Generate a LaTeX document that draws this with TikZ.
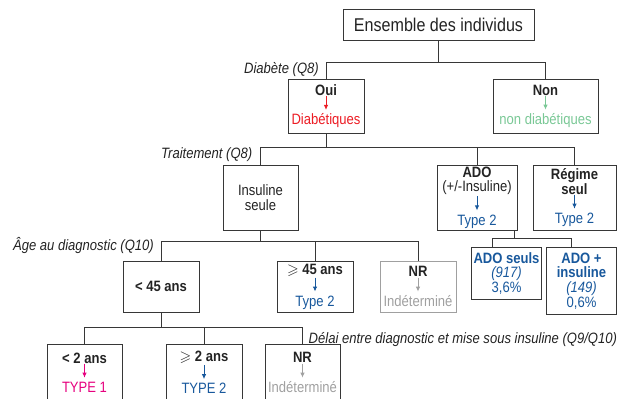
\documentclass[tikz,border=0pt]{standalone}
\usepackage{fontspec}
\setmainfont{Liberation Sans}[FakeStretch=0.87]
\usepackage{amssymb}
\usepackage{tikz}
\usetikzlibrary{arrows.meta, positioning}
\definecolor{txtgray}{RGB}{35,35,35}
\definecolor{linegray}{RGB}{55,55,55}
\definecolor{diabred}{RGB}{236,28,36}
\definecolor{nondgreen}{RGB}{122,200,150}
\definecolor{typeblue}{RGB}{24,88,156}
\definecolor{typepink}{RGB}{230,0,126}
\definecolor{indgray}{RGB}{160,160,160}
\newcommand{\smallarr}[1]{\tikz[baseline=0pt]\draw[#1, line width=0.9pt, -{Latex[length=5pt,width=4.5pt]}] (0,14pt) -- (0,0pt);}

\begin{document}
\begin{tikzpicture}[x=1pt, y=-1pt,
      box/.style={draw=linegray, line width=1pt, inner sep=0pt, align=center,
          text=txtgray, font=\fontsize{15}{14.6}\selectfont},
      link/.style={linegray, line width=1pt},
      qlab/.style={font=\fontsize{15}{14.6}\selectfont\itshape, text=txtgray, inner sep=0pt}
    ]
    \useasboundingbox (0,0) rectangle (622,399);
    \clip (0,0) rectangle (622,399);

    \node[box, minimum width=191pt, minimum height=31pt, font=\fontsize{18.5}{20}\selectfont] (root) at (438.5,24.5) {Ensemble des individus};
    \node[box, minimum width=76pt, minimum height=54pt] (oui) at (326,106) {\textbf{Oui}\\\smallarr{diabred}\\\textcolor{diabred}{Diabétiques}};
    \node[box, minimum width=105pt, minimum height=54pt, right=128pt of oui] (non) {\textbf{Non}\\\smallarr{nondgreen}\\\textcolor{nondgreen}{non diabétiques}};

    \node[box, minimum width=75pt, minimum height=65pt] (ins) at (260.5,197.5) {Insuline\\seule};
    \node[box, minimum width=80pt, minimum height=65pt, right=138pt of ins] (ado) {\textbf{ADO}\\(+/-Insuline)\\\smallarr{typeblue}\\\textcolor{typeblue}{Type 2}};
    \node[box, minimum width=83pt, minimum height=65pt, right=15pt of ado] (reg) {\textbf{Régime}\\\textbf{seul}\\\smallarr{typeblue}\\\textcolor{typeblue}{Type 2}};

    \node[box, minimum width=76pt, minimum height=51pt] (lt45) at (161,286.5) {\textbf{< 45 ans}};
    \node[box, minimum width=76pt, minimum height=51pt, right=77pt of lt45] (ge45) {$\geqslant$ \textbf{45 ans}\\\smallarr{typeblue}\\\textcolor{typeblue}{Type 2}};
    \node[box, draw=indgray, minimum width=76pt, minimum height=51pt, right=26pt of ge45] (nr45) {\textbf{NR}\\\smallarr{indgray}\\\textcolor{indgray}{Indéterminé}};

    \node[box, minimum width=70pt, minimum height=52pt, anchor=north west, text=typeblue] (seuls) at (471,247) {\textbf{ADO seuls}\\\textit{(917)}\\3,6\%};
    \node[box, minimum width=70pt, minimum height=67pt, right=4pt of seuls.north east, anchor=north west, text=typeblue] (plus) {\textbf{ADO +}\\\textbf{insuline}\\\textit{(149)}\\0,6\%};

    \node[box, minimum width=75pt, minimum height=56pt, anchor=north] (lt2) at (84.5,344) {\textbf{< 2 ans}\\\smallarr{typepink}\\\textcolor{typepink}{TYPE 1}};
    \node[box, minimum width=76pt, minimum height=56pt, right=43pt of lt2] (ge2) {$\geqslant$ \textbf{2 ans}\\\smallarr{typeblue}\\\textcolor{typeblue}{TYPE 2}};
    \node[box, minimum width=75pt, minimum height=56pt, right=22pt of ge2] (nr2) {\textbf{NR}\\\smallarr{indgray}\\\textcolor{indgray}{Indéterminé}};

    % question labels
    \node[qlab, anchor=base east] (qdiab)  at ([xshift=-7pt, yshift=5pt]oui.north)   {Diabète (Q8)};
    \node[qlab, anchor=base east] (qtrait) at ([xshift=-8pt, yshift=6pt]ins.north)   {Traitement (Q8)};
    \node[qlab, anchor=base east] (qage)   at ([xshift=-7pt, yshift=10pt]lt45.north) {Âge au diagnostic (Q10)};
    \node[qlab, anchor=base west] (qdelai) at ([xshift=6pt, yshift=1pt]nr2.north) {Délai entre diagnostic et mise sous insuline (Q9/Q10)};

    \draw[link] (root.south) -- ++(0,22) -| (oui.north);
    \draw[link] (root.south) -- ++(0,22) -| (non.north);
    \draw[link] (oui.south) -- ++(0,14) -| (ins.north);
    \draw[link] (oui.south) -- ++(0,14) -| (ado.north);
    \draw[link] (oui.south) -- ++(0,14) -| (reg.north);
    \draw[link] (ins.south) -- ++(0,11) -| (lt45.north);
    \draw[link] (ins.south) -- ++(0,11) -| (ge45.north);
    \draw[link] (ins.south) -- ++(0,11) -| (nr45.north);
    \draw[link] ([xshift=37pt]ado.south) -- ++(0,8) -| ([xshift=-14pt]seuls.north);
    \draw[link] ([xshift=37pt]ado.south) -- ++(0,8) -| ([xshift=-10pt]plus.north);
    \draw[link] (lt45.south) -- ++(0,15) -| (lt2.north);
    \draw[link] (lt45.south) -- ++(0,15) -| (ge2.north);
    \draw[link] (lt45.south) -- ++(0,15) -| (nr2.north);
  \end{tikzpicture}
\end{document}
